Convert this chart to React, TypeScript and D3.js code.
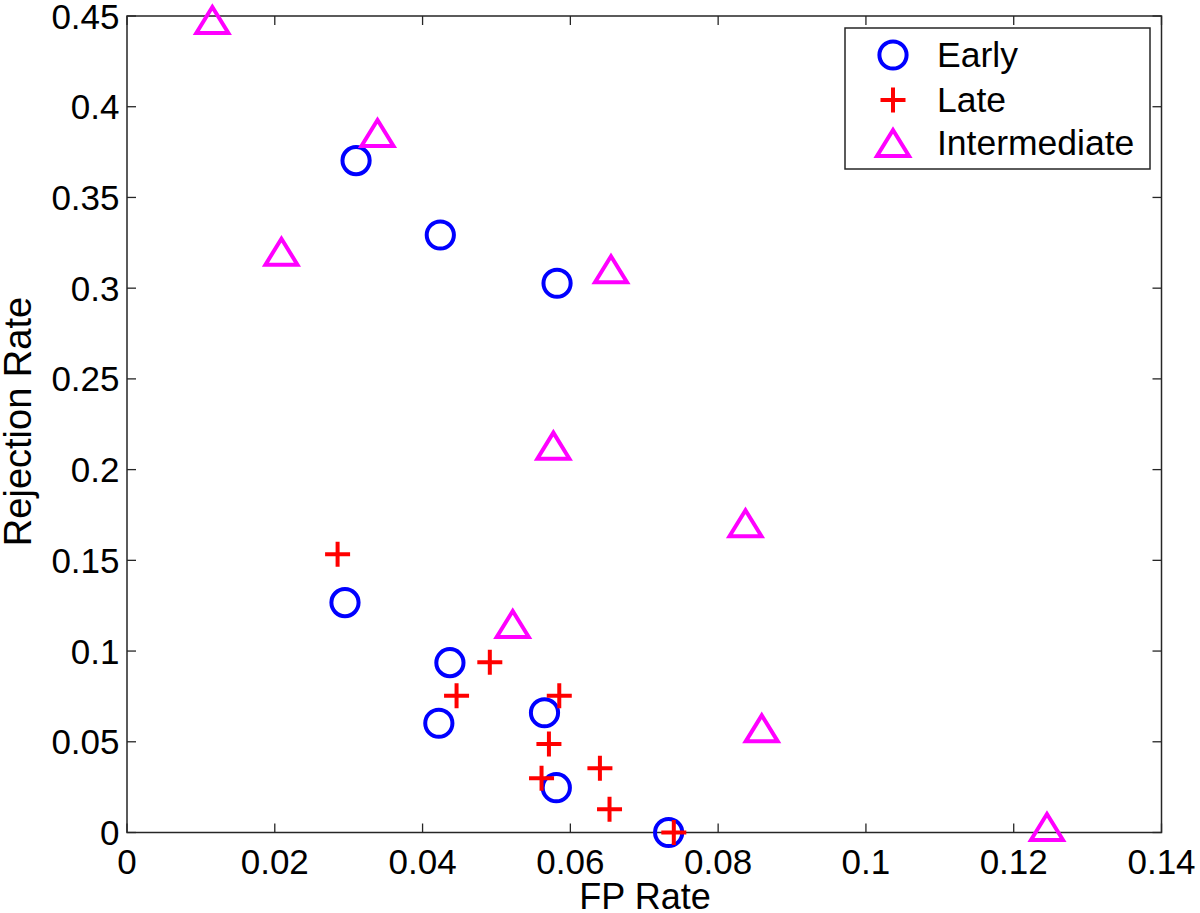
import React from "react";
import * as d3 from "d3";

const earlyX = [0.031, 0.0424, 0.0582, 0.0295, 0.0437, 0.0422, 0.0565, 0.0581, 0.0733];
const earlyY = [0.3703, 0.3293, 0.3027, 0.1267, 0.0936, 0.0602, 0.066, 0.0247, 0.0];
const lateX = [0.0285, 0.0491, 0.0446, 0.0585, 0.0571, 0.0561, 0.064, 0.0653, 0.074];
const lateY = [0.1533, 0.0938, 0.0754, 0.0754, 0.0488, 0.0299, 0.0354, 0.0128, 0.0];
const interX = [0.01155, 0.0339, 0.0209, 0.0655, 0.0577, 0.0837, 0.0522, 0.0859, 0.1245];
const interY = [0.4478, 0.3855, 0.3201, 0.3104, 0.2132, 0.1704, 0.1149, 0.0574, 0.003];

const xTicks = [0, 0.02, 0.04, 0.06, 0.08, 0.1, 0.12, 0.14];
const yTicks = [0, 0.05, 0.1, 0.15, 0.2, 0.25, 0.3, 0.35, 0.4, 0.45];
const seriesNames = ["Early", "Late", "Intermediate"];

const W = 1200;
const H = 913;
const L = 127, R = 1161.5, T = 16, B = 832.5;
const FONT = "'Liberation Sans', Arial, Helvetica, sans-serif";
const AX = "#262626";

const x = d3.scaleLinear().domain([0, 0.14]).range([L, R]);
const y = d3.scaleLinear().domain([0, 0.45]).range([B, T]);

const BLUE = "#0000ff";
const RED = "#ff0000";
const MAG = "#ff00ff";

function Circle({ cx, cy }: { cx: number; cy: number }) {
  return <circle cx={cx} cy={cy} r={13.6} fill="none" stroke={BLUE} strokeWidth={4} />;
}
function Plus({ cx, cy }: { cx: number; cy: number }) {
  const a = 12.5;
  return (
    <path
      d={`M${cx - a},${cy}H${cx + a}M${cx},${cy - a}V${cy + a}`}
      stroke={RED}
      strokeWidth={4}
      fill="none"
    />
  );
}
function Tri({ cx, cy }: { cx: number; cy: number }) {
  const hw = 16, hh = 13;
  return (
    <path
      d={`M${cx},${cy - hh}L${cx + hw},${cy + hh}L${cx - hw},${cy + hh}Z`}
      stroke={MAG}
      strokeWidth={4}
      fill="none"
      strokeLinejoin="miter"
    />
  );
}

export default function App() {
  const tickLen = 9;
  return (
    <svg
      width={W}
      height={H}
      style={{ position: "absolute", left: 0, top: 0, background: "#fff" }}
      fontFamily={FONT}
    >
      <rect x={0} y={0} width={W} height={H} fill="#fff" />
      {/* ticks */}
      {xTicks.map((t, i) => (
        <g key={"xt" + i}>
          <line x1={x(t)} x2={x(t)} y1={B} y2={B - tickLen} stroke={AX} strokeWidth={1.3} />
          <line x1={x(t)} x2={x(t)} y1={T} y2={T + tickLen} stroke={AX} strokeWidth={1.3} />
          <text x={x(t)} y={874} textAnchor="middle" fontSize={35} fill="#000">
            {String(t)}
          </text>
        </g>
      ))}
      {yTicks.map((t, i) => (
        <g key={"yt" + i}>
          <line x1={L} x2={L + tickLen} y1={y(t)} y2={y(t)} stroke={AX} strokeWidth={1.3} />
          <line x1={R} x2={R - tickLen} y1={y(t)} y2={y(t)} stroke={AX} strokeWidth={1.3} />
          <text x={119.5} y={y(t) + 12.5} textAnchor="end" fontSize={35} fill="#000">
            {String(t)}
          </text>
        </g>
      ))}
      <rect x={L} y={T} width={R - L} height={B - T} fill="none" stroke={AX} strokeWidth={1.5} />

      {/* data */}
      {earlyX.map((v, i) => (
        <Circle key={"e" + i} cx={x(v)} cy={y(earlyY[i])} />
      ))}
      {lateX.map((v, i) => (
        <Plus key={"l" + i} cx={x(v)} cy={y(lateY[i])} />
      ))}
      {interX.map((v, i) => (
        <Tri key={"m" + i} cx={x(v)} cy={y(interY[i])} />
      ))}

      {/* axis labels */}
      <text x={645} y={909} textAnchor="middle" fontSize={36} fill="#000">
        FP Rate
      </text>
      <text
        transform={`translate(${31},${421.5}) rotate(-90)`}
        textAnchor="middle"
        fontSize={38}
        fill="#000"
      >
        Rejection Rate
      </text>

      {/* legend */}
      <rect x={845} y={28} width={305} height={141} fill="#fff" stroke={AX} strokeWidth={1.5} />
      <Circle cx={893} cy={55} />
      <Plus cx={893} cy={100} />
      <Tri cx={893} cy={143} />
      {seriesNames.map((n, i) => (
        <text key={n} x={937} y={[67, 112, 155][i]} fontSize={35.5} fill="#000">
          {n}
        </text>
      ))}
    </svg>
  );
}
